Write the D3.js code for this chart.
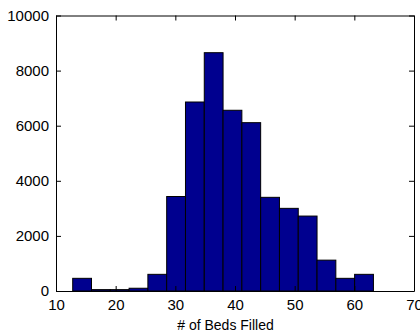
<!DOCTYPE html>
<html>
<head>
<meta charset="utf-8">
<script src="https://d3js.org/d3.v7.min.js"></script>
<style>
  html, body { margin: 0; padding: 0; background: #fff; }
  svg { display: block; }
  text { font-family: "Liberation Sans", Arial, sans-serif; fill: #000; }
</style>
</head>
<body>
<svg id="chart" width="420" height="335"></svg>
<script>
// Histogram bins: lower edges, upper edges and counts
const binLower = [12.8, 15.95, 19.1, 22.25, 25.4, 28.55, 31.7, 34.85, 38.0, 41.15, 44.3, 47.45, 50.6, 53.75, 56.9, 60.05];
const binUpper = [15.95, 19.1, 22.25, 25.4, 28.55, 31.7, 34.85, 38.0, 41.15, 44.3, 47.45, 50.6, 53.75, 56.9, 60.05, 63.2];
const counts   = [460, 50, 50, 100, 605, 3430, 6860, 8650, 6560, 6110, 3400, 3000, 2720, 1120, 460, 605];

const xTicks = [10, 20, 30, 40, 50, 60, 70];
const yTicks = [0, 2000, 4000, 6000, 8000, 10000];
const xLabel = "# of Beds Filled";

(function () {
  const svg = d3.select("#chart");
  const m = { left: 56, right: 414, top: 15.5, bottom: 291 };

  const x = d3.scaleLinear().domain([10, 70]).range([m.left, m.right]);
  const y = d3.scaleLinear().domain([0, 10000]).range([m.bottom, m.top]);

  const bins = counts.map((c, i) => ({ x0: binLower[i], x1: binUpper[i], c }));

  // bars
  svg.append("g").selectAll("rect").data(bins).join("rect")
    .attr("x", d => x(d.x0))
    .attr("y", d => y(d.c))
    .attr("width", d => x(d.x1) - x(d.x0))
    .attr("height", d => y(0) - y(d.c))
    .attr("fill", "#00008f")
    .attr("stroke", "#000")
    .attr("stroke-width", 1);

  // axes with inward ticks (box style)
  const tl = 5;
  const axB = svg.append("g").attr("transform", `translate(0,${m.bottom})`)
    .call(d3.axisBottom(x).tickValues(xTicks).tickSizeInner(-tl).tickSizeOuter(0).tickPadding(8).tickFormat(d3.format("d")));
  const axT = svg.append("g").attr("transform", `translate(0,${m.top})`)
    .call(d3.axisTop(x).tickValues(xTicks).tickSizeInner(-tl).tickSizeOuter(0).tickFormat(""));
  const axL = svg.append("g").attr("transform", `translate(${m.left},0)`)
    .call(d3.axisLeft(y).tickValues(yTicks).tickSizeInner(-tl).tickSizeOuter(0).tickPadding(7).tickFormat(d3.format("d")));
  const axR = svg.append("g").attr("transform", `translate(${m.right},0)`)
    .call(d3.axisRight(y).tickValues(yTicks).tickSizeInner(-tl).tickSizeOuter(0).tickFormat(""));

  [axB, axT, axL, axR].forEach(a => {
    a.selectAll("path.domain").attr("stroke", "#000").attr("stroke-width", 1);
    a.selectAll(".tick line").attr("stroke", "#000");
    a.selectAll(".tick text").attr("font-size", 15).attr("font-family", "Liberation Sans, Arial, sans-serif");
  });

  svg.append("text")
    .attr("x", 225.5)
    .attr("y", 330)
    .attr("text-anchor", "middle")
    .attr("font-size", 14)
    .text(xLabel);
})();
</script>
</body>
</html>
